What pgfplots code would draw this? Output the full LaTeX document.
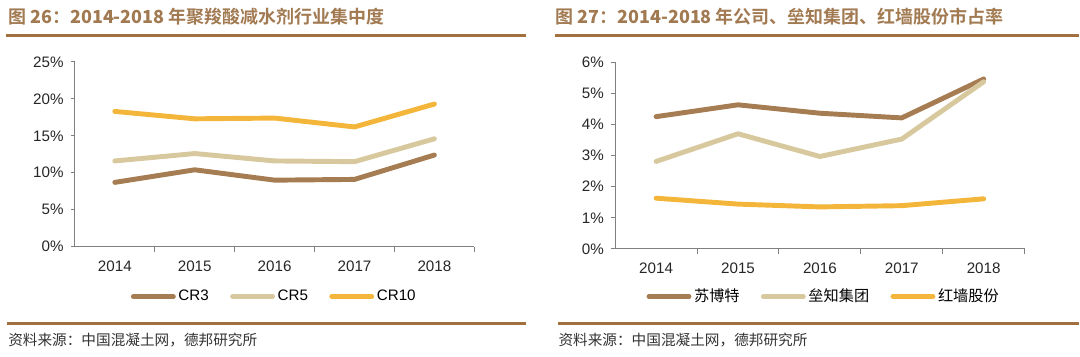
\documentclass[border=0pt]{standalone}
\usepackage{fontspec}
\setmainfont{Liberation Sans}
\newfontfamily\cjk{Noto Sans CJK SC}
\newfontfamily\cjkb{Noto Sans CJK SC Bold}
\usepackage{pgfplots}
\pgfplotsset{compat=1.18}
\definecolor{cA}{HTML}{A67C52}
\definecolor{cB}{HTML}{D8C89E}
\definecolor{cC}{HTML}{F4B63A}
\definecolor{ttl}{HTML}{A27A52}
\definecolor{rulec}{HTML}{A0703F}
\definecolor{axg}{HTML}{808080}
\pgfplotsset{
  myax/.style={
    scale only axis,
    axis x line*=bottom, axis y line*=left,
    axis line style={draw=axg, line width=0.8pt},
    xmin=-0.5, xmax=4.5,
    xtick={0,1,2,3,4},
    xticklabels={2014,2015,2016,2017,2018},
    minor xtick={0.5,1.5,2.5,3.5,4.5},
    tick align=outside,
    major tick length=3pt,
    minor tick length=4pt,
    major x tick style={draw=none},
    minor x tick style={draw=axg, line width=0.8pt},
    major y tick style={draw=axg, line width=0.8pt},
    tick label style={font=\fontsize{11.4}{13}\selectfont, text=black!85},
    /pgf/number format/assume math mode=true,
    xticklabel style={yshift=-4pt},
    yticklabel style={xshift=-2pt},
    legend columns=3,
    legend style={draw=none, fill=none, at={(0.5,-0.27)}, anchor=center,
      font=\fontsize{11.4}{13}\selectfont,
      /tikz/every even column/.append style={column sep=14pt}},
    legend image code/.code={\draw[#1] (0pt,0pt) -- (30pt,0pt);},
    every axis plot/.append style={line width=3.7pt, line cap=round, line join=round},
  }
}
\begin{document}
\begin{tikzpicture}[x=0.75pt,y=0.75pt]
\path (0,0) rectangle (1080,357);
% titles
\node[anchor=base west, inner sep=0pt, text=ttl, font=\fontsize{13.5}{15}\selectfont] at (8,333)
  {\cjkb 图 \textbf{26}：\textbf{2014-2018} 年聚羧酸减水剂行业集中度};
\node[anchor=base west, inner sep=0pt, text=ttl, font=\fontsize{13.5}{15}\selectfont] at (556,333)
  {\cjkb 图 \textbf{27}：\textbf{2014-2018} 年公司、垒知集团、红墙股份市占率};
\draw[rulec, line width=2.2pt] (6,321.5) -- (527,321.5);
\draw[rulec, line width=2.2pt] (556,321.5) -- (1080,321.5);
\draw[rulec, line width=2.2pt] (7,33) -- (527,33);
\draw[rulec, line width=2.2pt] (559,33) -- (1080,33);
\node[anchor=west, inner sep=0pt, text=black!80, font=\fontsize{11}{13}\selectfont] at (8,16) {\cjk 资料来源：中国混凝土网，德邦研究所};
\node[anchor=west, inner sep=0pt, text=black!80, font=\fontsize{11}{13}\selectfont] at (559,16) {\cjk 资料来源：中国混凝土网，德邦研究所};

\begin{axis}[myax, at={(56.25pt,82.5pt)}, anchor=south west,
  width=300pt, height=138.75pt,
  ymin=0, ymax=25, ytick={0,5,10,15,20,25},
  yticklabels={0\%,5\%,10\%,15\%,20\%,25\%}]
\addplot[cA] coordinates {(0,8.7) (1,10.4) (2,9.0) (3,9.1) (4,12.4)};
\addlegendentry{CR3}
\addplot[cB] coordinates {(0,11.6) (1,12.6) (2,11.6) (3,11.5) (4,14.6)};
\addlegendentry{CR5}
\addplot[cC] coordinates {(0,18.3) (1,17.3) (2,17.4) (3,16.2) (4,19.3)};
\addlegendentry{CR10}
\end{axis}

\begin{axis}[myax, at={(462pt,80.8pt)}, anchor=south west,
  width=307.5pt, height=140.25pt,
  ymin=0, ymax=6, ytick={0,1,2,3,4,5,6},
  yticklabels={0\%,1\%,2\%,3\%,4\%,5\%,6\%},
  legend style={at={(0.51,-0.255)}}]
\addplot[cA] coordinates {(0,4.25) (1,4.63) (2,4.36) (3,4.21) (4,5.46)};
\addlegendentry{\cjk 苏博特}
\addplot[cB] coordinates {(0,2.81) (1,3.70) (2,2.97) (3,3.53) (4,5.37)};
\addlegendentry{\cjk 垒知集团}
\addplot[cC] coordinates {(0,1.63) (1,1.44) (2,1.35) (3,1.39) (4,1.61)};
\addlegendentry{\cjk 红墙股份}
\end{axis}
\end{tikzpicture}
\end{document}
